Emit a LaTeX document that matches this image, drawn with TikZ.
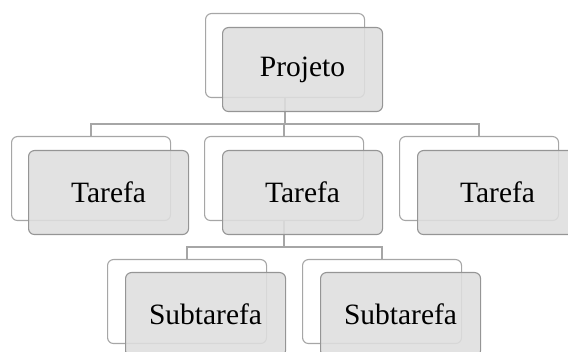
\documentclass[tikz,border=0pt]{standalone}
\usepackage{fontspec}
\setmainfont{Liberation Serif}
\usetikzlibrary{calc}
\definecolor{edgegray}{HTML}{A6A6A6}
\definecolor{boxgray}{HTML}{DEDEDE}
\tikzset{
  x=1pt, y=-1pt,
  backbox/.style={draw=edgegray, line width=1.1pt, fill=white, rounded corners=6pt,
    minimum width=159pt, minimum height=84pt, inner sep=0pt, anchor=north west},
  frontbox/.style={draw=edgegray!90!black, line width=1.1pt, fill=boxgray, fill opacity=0.88,
    text opacity=1, rounded corners=6pt, minimum width=160pt, minimum height=84pt,
    inner sep=0pt, anchor=north west, font=\fontsize{29.5}{32}\selectfont},
  link/.style={draw=edgegray, line width=1.4pt}
}
\begin{document}
\begin{tikzpicture}
\useasboundingbox (0,0) rectangle (568,352);
\clip (0,0) rectangle (568,352);

% back (white) cards of each item
\node[backbox] (p)  at (205,13)  {};
\node[backbox] (t1) at (11,136)  {};
\node[backbox] (t2) at (204,136) {};
\node[backbox] (t3) at (399,136) {};
\node[backbox] (s1) at (107,259) {};
\node[backbox] (s2) at (302,259) {};

% bus points just above each child card
\foreach \c in {t1,t2,t3,s1,s2}
  \path (\c.north) ++(0,-12) coordinate (\c-bus);

% hierarchy connectors
\draw[link] (p.south)  |- (t1-bus) -- (t1.north);
\draw[link] (p.south)  |- (t2-bus) -- (t2.north);
\draw[link] (p.south)  |- (t3-bus) -- (t3.north);
\draw[link] (t2.south) |- (s1-bus) -- (s1.north);
\draw[link] (t2.south) |- (s2-bus) -- (s2.north);

% front (gray) cards with the labels
\node[frontbox] (pf)  at (222,27)  {Projeto};
\node[frontbox] (t1f) at (28,150)  {Tarefa};
\node[frontbox] (t2f) at (222,150) {Tarefa};
\node[frontbox] (t3f) at (417,150) {Tarefa};
\node[frontbox] (s1f) at (125,272) {Subtarefa};
\node[frontbox] (s2f) at (320,272) {Subtarefa};
\end{tikzpicture}
\end{document}
